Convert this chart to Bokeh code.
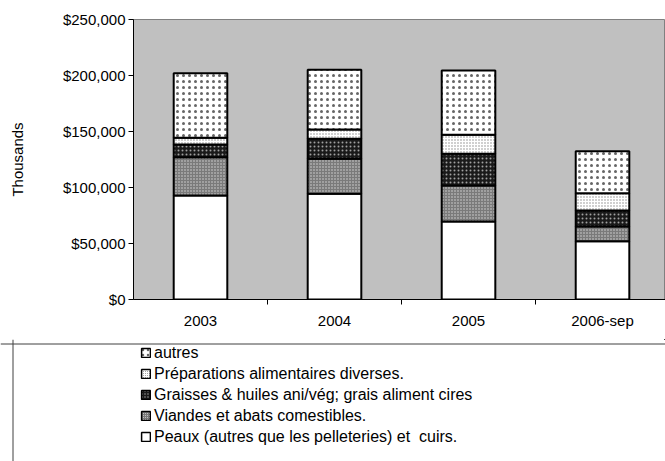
from bokeh.plotting import figure
from bokeh.models import (Range1d, FixedTicker, NumeralTickFormatter, Legend, LegendItem, Span)
from bokeh.layouts import column
from bokeh.embed import file_html
from bokeh.resources import INLINE

# ---- data (thousands of $) ----
categories = ["2003", "2004", "2005", "2006-sep"]
peaux = [92.9, 94.4, 69.6, 52.1]
viandes = [34.2, 31.2, 32.2, 13.1]
graisses = [11.3, 17.9, 28.3, 14.3]
preparations = [6.0, 8.3, 16.9, 15.4]
autres = [57.7, 53.3, 57.5, 37.5]

series_names = [
    "Peaux (autres que les pelleteries) et  cuirs.",
    "Viandes et abats comestibles.",
    "Graisses & huiles ani/vég; grais aliment cires",
    "Préparations alimentaires diverses.",
    "autres",
]
series_values = [peaux, viandes, graisses, preparations, autres]

styles = [
    dict(fill_color="white", hatch_pattern=None),
    dict(fill_color="#7a7a7a", hatch_pattern="dot", hatch_color="#d8d8d8", hatch_scale=3, hatch_weight=1),
    dict(fill_color="#1a1a1a", hatch_pattern="dot", hatch_color="#a0a0a0", hatch_scale=4, hatch_weight=1.5),
    dict(fill_color="white", hatch_pattern="dot", hatch_color="#8a8a8a", hatch_scale=3, hatch_weight=1),
    dict(fill_color="white", hatch_pattern="dot", hatch_color="#666666", hatch_scale=6, hatch_weight=1),
]

FONT = "Liberation Sans"
x_pos = [i + 1 for i in range(len(categories))]

p = figure(frame_width=532, frame_height=280, output_backend="svg", toolbar_location=None,
           x_range=Range1d(0.5, 4.47), y_range=Range1d(0, 250000),
           min_border_left=133, min_border_right=0, min_border_top=19, min_border_bottom=40)
p.frame_align = False
p.background_fill_color = "#c0c0c0"
p.border_fill_color = "white"
p.outline_line_color = "#808080"
p.xgrid.visible = False
p.ygrid.visible = False

stacks = []
bottoms = [0.0] * len(categories)
for vals, st in zip(series_values, styles):
    tops = [b + v * 1000 for b, v in zip(bottoms, vals)]
    stacks.append((list(bottoms), tops))
    kw = dict(fill_color=st["fill_color"], line_color="black", line_width=2)
    if st["hatch_pattern"]:
        kw.update(hatch_pattern=st["hatch_pattern"], hatch_color=st["hatch_color"],
                  hatch_scale=st["hatch_scale"], hatch_weight=st["hatch_weight"])
    p.vbar(x=x_pos, bottom=bottoms, top=tops, width=0.40, **kw)
    bottoms = tops

# x axis
p.xaxis.ticker = FixedTicker(ticks=x_pos, minor_ticks=[1.5, 2.5, 3.5])
p.xaxis.major_label_overrides = {x: c for x, c in zip(x_pos, categories)}
p.xaxis.major_tick_out = 0
p.xaxis.major_tick_in = 0
p.xaxis.minor_tick_out = 5
p.xaxis.minor_tick_in = 0
p.xaxis.minor_tick_line_color = "black"
p.xaxis.axis_line_color = "black"
p.xaxis.major_label_standoff = 7
p.xaxis.major_label_text_font = FONT
p.xaxis.major_label_text_font_size = "15px"
p.xaxis.major_label_text_color = "black"

# y axis
p.yaxis.ticker = FixedTicker(ticks=[0, 50000, 100000, 150000, 200000, 250000])
p.yaxis.formatter = NumeralTickFormatter(format="$0,0")
p.yaxis.major_tick_out = 5
p.yaxis.major_tick_in = 0
p.yaxis.minor_tick_line_color = None
p.yaxis.axis_line_color = "black"
p.yaxis.major_label_standoff = 3
p.yaxis.major_label_text_font = FONT
p.yaxis.major_label_text_font_size = "15px"
p.yaxis.major_label_text_color = "black"
p.yaxis.axis_label = "Thousands"
p.yaxis.axis_label_text_font = FONT
p.yaxis.axis_label_text_font_size = "15px"
p.yaxis.axis_label_text_font_style = "normal"
p.yaxis.axis_label_text_color = "black"
p.yaxis.axis_label_standoff = 34

# ---- legend panel (view kept at negative coordinates so the sample bars stay hidden) ----
p2 = figure(frame_width=665, frame_height=122, output_backend="svg", toolbar_location=None,
            x_range=Range1d(-665, 0), y_range=Range1d(-122, 0),
            min_border_left=0, min_border_right=0, min_border_top=0, min_border_bottom=0,
            min_border=0)
p2.frame_align = False
p2.axis.visible = False
p2.grid.visible = False
p2.outline_line_color = None
p2.background_fill_color = "white"
p2.border_fill_color = "white"
p2.add_layout(Span(location=-4.5, dimension="width", line_color="#404040", line_width=1))
p2.add_layout(Span(location=-652.5, dimension="height", line_color="#404040", line_width=1))

items = []
for name, st, (bots, tps) in zip(series_names, styles, stacks):
    kw = dict(fill_color=st["fill_color"], line_color="black", line_width=1.5)
    if st["hatch_pattern"]:
        kw.update(hatch_pattern=st["hatch_pattern"], hatch_color=st["hatch_color"],
                  hatch_scale=max(2, st["hatch_scale"] - 1), hatch_weight=1)
    r = p2.vbar(x=x_pos, bottom=bots, top=tps, width=0.4, **kw)
    items.append(LegendItem(label=name, renderers=[r]))
items = items[::-1]

legend = Legend(items=items, location=(140, 15), orientation="vertical",
                border_line_color=None, background_fill_alpha=0,
                padding=0, margin=0, spacing=2, label_height=19,
                glyph_width=11, glyph_height=11, label_standoff=3,
                label_text_font=FONT, label_text_font_size="16px", label_text_color="black")
p2.add_layout(legend)

layout = column(p, p2, spacing=0)
open("out.html", "w").write(file_html(layout, INLINE))
